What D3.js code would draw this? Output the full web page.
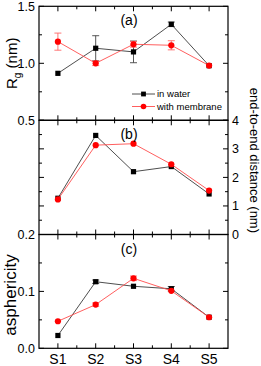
<!DOCTYPE html>
<html><head><meta charset="utf-8">
<script src="https://cdn.jsdelivr.net/npm/d3@7"></script>
<style>html,body{margin:0;padding:0;background:#fff;}svg{display:block;}text{font-family:Arial,"Liberation Sans",sans-serif;}</style>
</head><body>
<svg id="c" width="261" height="366"></svg>
<script>
const categories = ["S1","S2","S3","S4","S5"];
const seriesNames = ["in water","with membrane"];
// Panel (a): radius of gyration (nm)
const rgWater = [0.912, 1.132, 1.10, 1.342, 0.979];
const rgWaterErr = [0.0, 0.11, 0.095, 0.02, 0.0];
const rgMembrane = [1.19, 1.0, 1.167, 1.158, 0.98];
const rgMembraneErr = [0.075, 0.02, 0.025, 0.04, 0.0];
// Panel (b): end-to-end distance (nm)
const eteWater = [1.27, 3.47, 2.20, 2.38, 1.42];
const eteMembrane = [1.23, 3.13, 3.18, 2.46, 1.54];
// Panel (c): asphericity
const aspWater = [0.0225, 0.117, 0.109, 0.1046, 0.0546];
const aspWaterErr = [0.0, 0.003, 0.0, 0.004, 0.0];
const aspMembrane = [0.0475, 0.0768, 0.123, 0.101, 0.0546];
const aspMembraneErr = [0.0, 0.003, 0.004, 0.0, 0.0];
// tick definitions
const xMajor = [1,2,3,4,5];
const xMinor = [1.5,2.5,3.5,4.5];
const rgMajor = [0.5,1.0,1.5], rgMinor = [0.75,1.25];
const eteMajor = [0,1,2,3,4], eteMinor = [0.5,1.5,2.5,3.5];
const aspMajor = [0.0,0.1,0.2], aspMinor = [0.05,0.15];

const svg = d3.select("#c");
const L = 39, R = 228;
const tops = [6.3, 120.3, 234.5, 348.3];
const x = d3.scaleLinear().domain([0.5,5.5]).range([L,R]);
const yA = d3.scaleLinear().domain([0.5,1.5]).range([tops[1],tops[0]]);
const yB = d3.scaleLinear().domain([0,4]).range([tops[2],tops[1]]);
const yC = d3.scaleLinear().domain([0,0.2]).range([tops[3],tops[2]]);

const BLACK = "#000", LINEK = "#3a3a3a", RED = "#ff0000", LINER = "#ff4d4d", ERRR = "#ff6666";
const MAJ = 5, MIN = 3;

function frame(y, top, bot, yMaj, yMin) {
  const g = svg.append("g");
  xMajor.forEach(v => {
    g.append("line").attr("x1",x(v)).attr("x2",x(v)).attr("y1",top).attr("y2",top+MAJ).attr("stroke",BLACK);
    g.append("line").attr("x1",x(v)).attr("x2",x(v)).attr("y1",bot).attr("y2",bot-MAJ).attr("stroke",BLACK);
  });
  xMinor.forEach(v => {
    g.append("line").attr("x1",x(v)).attr("x2",x(v)).attr("y1",top).attr("y2",top+MIN).attr("stroke",BLACK);
    g.append("line").attr("x1",x(v)).attr("x2",x(v)).attr("y1",bot).attr("y2",bot-MIN).attr("stroke",BLACK);
  });
  yMaj.forEach(v => {
    g.append("line").attr("x1",L).attr("x2",L+MAJ).attr("y1",y(v)).attr("y2",y(v)).attr("stroke",BLACK);
    g.append("line").attr("x1",R).attr("x2",R-MAJ).attr("y1",y(v)).attr("y2",y(v)).attr("stroke",BLACK);
  });
  yMin.forEach(v => {
    g.append("line").attr("x1",L).attr("x2",L+MIN).attr("y1",y(v)).attr("y2",y(v)).attr("stroke",BLACK);
    g.append("line").attr("x1",R).attr("x2",R-MIN).attr("y1",y(v)).attr("y2",y(v)).attr("stroke",BLACK);
  });
  g.append("rect").attr("x",L).attr("y",top).attr("width",R-L).attr("height",bot-top)
    .attr("fill","none").attr("stroke",BLACK).attr("stroke-width",1.2);
}
frame(yA, tops[0], tops[1], rgMajor, rgMinor);
frame(yB, tops[1], tops[2], eteMajor, eteMinor);
frame(yC, tops[2], tops[3], aspMajor, aspMinor);

function series(y, vals, errs, lineColor, errColor, markerColor, shape) {
  const g = svg.append("g");
  const line = d3.line().x((d,i)=>x(i+1)).y(d=>y(d));
  g.append("path").attr("d", line(vals)).attr("fill","none").attr("stroke",lineColor).attr("stroke-width",0.9);
  if (errs) vals.forEach((v,i) => {
    const e = errs[i]; if (!e) return;
    const cx = x(i+1);
    g.append("line").attr("x1",cx).attr("x2",cx).attr("y1",y(v-e)).attr("y2",y(v+e)).attr("stroke",errColor).attr("stroke-width",0.9);
    [v-e, v+e].forEach(w => g.append("line").attr("x1",cx-3.5).attr("x2",cx+3.5).attr("y1",y(w)).attr("y2",y(w)).attr("stroke",errColor).attr("stroke-width",0.9));
  });
  vals.forEach((v,i) => {
    if (shape === "square") g.append("rect").attr("x",x(i+1)-2.6).attr("y",y(v)-2.6).attr("width",5.2).attr("height",5.2).attr("fill",markerColor);
    else g.append("circle").attr("cx",x(i+1)).attr("cy",y(v)).attr("r",3.1).attr("fill",markerColor);
  });
}
series(yA, rgWater, rgWaterErr, LINEK, "#444", BLACK, "square");
series(yA, rgMembrane, rgMembraneErr, LINER, ERRR, RED, "circle");
series(yB, eteWater, null, LINEK, "#444", BLACK, "square");
series(yB, eteMembrane, null, LINER, ERRR, RED, "circle");
series(yC, aspWater, aspWaterErr, LINEK, "#444", BLACK, "square");
series(yC, aspMembrane, aspMembraneErr, LINER, ERRR, RED, "circle");

// tick labels
const tl = svg.append("g").attr("font-size",12.5).attr("fill","#000");
[["1.5",yA(1.5)],["1.0",yA(1.0)],["0.5",yA(0.5)],["0.2",yC(0.2)],["0.1",yC(0.1)],["0.0",yC(0.0)]].forEach(([t,yy]) =>
  tl.append("text").attr("x",35).attr("y",yy).attr("dy","0.36em").attr("text-anchor","end").text(t));
eteMajor.forEach(v => tl.append("text").attr("x",232).attr("y",yB(v)).attr("dy","0.36em").text(d3.format("d")(v)));
categories.forEach((c,i) => svg.append("text").attr("x",x(i+1)).attr("y",364).attr("text-anchor","middle").attr("font-size",14).text(c));

// panel labels
[["(a)",tops[0]],["(b)",tops[1]],["(c)",tops[2]]].forEach(([t,yy]) =>
  svg.append("text").attr("x",129).attr("y",yy+19).attr("text-anchor","middle").attr("font-size",14).text(t));

// axis titles
const rg = svg.append("text").attr("transform",`translate(17,${yA(1.0)}) rotate(-90)`).attr("text-anchor","middle").attr("font-size",15);
rg.append("tspan").text("R");
rg.append("tspan").attr("font-size",10).attr("dy",4).text("g");
rg.append("tspan").attr("dy",-4).text(" (nm)");
svg.append("text").attr("transform",`translate(255,${(tops[1]+tops[2])/2 - 17}) rotate(90)`).attr("text-anchor","middle").attr("dy","0.35em").attr("font-size",13).text("end-to-end distance (nm)");
svg.append("text").attr("transform",`translate(16,295) rotate(-90)`).attr("text-anchor","middle").attr("font-size",17).text("asphericity");

// legend
const lg = svg.append("g");
[[94, LINEK, BLACK, "square", seriesNames[0]],[106.5, LINER, RED, "circle", seriesNames[1]]].forEach(([yy, lc, mc, sh, name]) => {
  lg.append("line").attr("x1",132).attr("x2",155).attr("y1",yy).attr("y2",yy).attr("stroke",lc).attr("stroke-width",0.9);
  if (sh==="square") lg.append("rect").attr("x",143.5-2.4).attr("y",yy-2.4).attr("width",4.8).attr("height",4.8).attr("fill",mc);
  else lg.append("circle").attr("cx",143.5).attr("cy",yy).attr("r",2.8).attr("fill",mc);
  lg.append("text").attr("x",157).attr("y",yy).attr("dy","0.35em").attr("font-size",9.5).text(name);
});
</script>
</body></html>
